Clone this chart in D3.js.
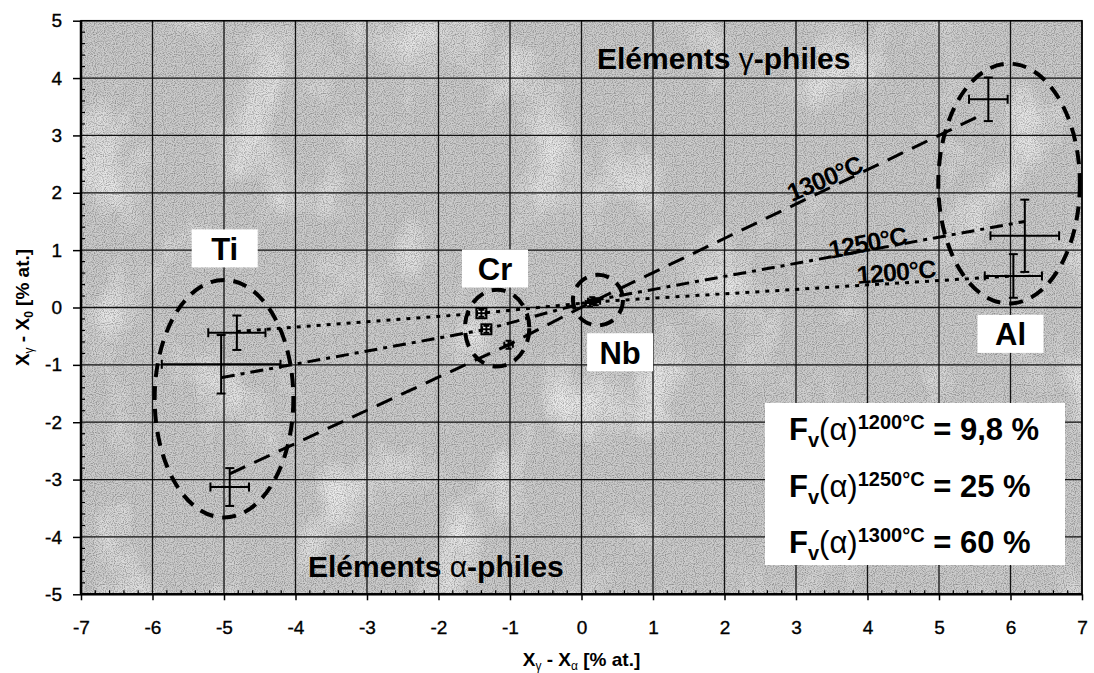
<!DOCTYPE html>
<html><head><meta charset="utf-8">
<script src="https://cdn.jsdelivr.net/npm/d3@7"></script>
<style>
body{margin:0;background:#fff;}
svg{display:block;font-family:"Liberation Sans",Arial,sans-serif;}
</style>
</head><body>
<svg id="c" width="1094" height="673"></svg>
<script>
// ---------- DATA ----------
const xTicks = [-7,-6,-5,-4,-3,-2,-1,0,1,2,3,4,5,6,7];
const xTickLabels = ["-7","-6","-5","-4","-3","-2","-1","0","1","2","3","4","5","6","7"];
const yTicks = [-5,-4,-3,-2,-1,0,1,2,3,4,5];
const yTickLabels = ["-5","-4","-3","-2","-1","0","1","2","3","4","5"];

const elements = ["Ti","Cr","Nb","Al"];
const temps = ["1200°C","1250°C","1300°C"];

// tie lines (Ti, Cr, Nb, Al) for each temperature
const line1200X = [-4.82,-1.40,0.20,6.04];
const line1200Y = [-0.42,-0.10,0.10,0.55];
const line1250X = [-5.03,-1.33,0.15,6.20];
const line1250Y = [-1.22,-0.38,0.12,1.50];
const line1300X = [-4.92,-1.02,0.12,5.60];
const line1300Y = [-2.90,-0.65,0.08,3.36];

// measured points with error bars
const ptX  = [-4.82,-5.04,-4.92,-1.40,-1.33,-1.02, 0.20, 0.15, 0.12, 6.04, 6.20, 5.69];
const ptY  = [-0.44,-0.99,-3.13,-0.10,-0.38,-0.65, 0.10, 0.12, 0.08, 0.55, 1.25, 3.63];
const ptDX = [ 0.40, 0.83, 0.27, 0.06, 0.06, 0.06, 0.06, 0.06, 0.06, 0.40, 0.48, 0.27];
const ptDY = [ 0.30, 0.51, 0.33, 0.06, 0.06, 0.07, 0.06, 0.06, 0.06, 0.38, 0.63, 0.38];
const ptSquare = [false,false,false,true,true,false,false,false,false,false,false,false];

// grouping ellipses (Ti, Cr, Nb, Al): centre and half-axes in data units
const ellCX = [-5.00,-1.18,0.23,5.98];
const ellCY = [-1.59,-0.36,0.13,2.16];
const ellRX = [ 0.97, 0.45,0.35,0.99];
const ellRY = [ 2.07, 0.67,0.44,2.09];

// element labels (centre, data units)
const labX = [-4.99,-1.21,0.54,6.00];
const labY = [ 1.03, 0.68,-0.78,-0.46];

// volume fractions
const fvValues = ["9,8 %","25 %","60 %"];

// ---------- LAYOUT ----------
const svg = d3.select("#c");
const L=81, R=1082, T=20.7, B=594.3;
const x = d3.scaleLinear().domain([-7,7]).range([L,R]);
const y = d3.scaleLinear().domain([-5,5]).range([B,T]);

// background + texture
const defs = svg.append("defs");
const f1 = defs.append("filter").attr("id","mottle").attr("x",0).attr("y",0).attr("width","100%").attr("height","100%");
f1.append("feTurbulence").attr("type","fractalNoise").attr("baseFrequency","0.014 0.009").attr("numOctaves",4).attr("seed",11);
f1.append("feColorMatrix").attr("type","matrix").attr("values","0 0 0 0 1  0 0 0 0 1  0 0 0 0 1  3.2 0 0 0 -1.7");
const f2 = defs.append("filter").attr("id","grain").attr("x",0).attr("y",0).attr("width","100%").attr("height","100%");
f2.append("feTurbulence").attr("type","fractalNoise").attr("baseFrequency","0.9").attr("numOctaves",1).attr("seed",2);
f2.append("feColorMatrix").attr("type","matrix").attr("values","0 0 0 0 0  0 0 0 0 0  0 0 0 0 0  3 0 0 0 -1.3");

svg.append("rect").attr("x",L).attr("y",T).attr("width",R-L).attr("height",B-T).attr("fill","#cbcbcb");
svg.append("rect").attr("x",L).attr("y",T).attr("width",R-L).attr("height",B-T).attr("filter","url(#mottle)").attr("opacity",0.6);
svg.append("rect").attr("x",L).attr("y",T).attr("width",R-L).attr("height",B-T).attr("filter","url(#grain)").attr("opacity",0.3);

// grid
const grid = svg.append("g");
grid.selectAll("line.gx").data(xTicks).join("line")
  .attr("x1",d=>x(d)).attr("x2",d=>x(d)).attr("y1",T).attr("y2",B)
  .attr("stroke","#111").attr("stroke-width",1.3);
grid.selectAll("line.gy").data(yTicks).join("line")
  .attr("y1",d=>y(d)).attr("y2",d=>y(d)).attr("x1",L).attr("x2",R)
  .attr("stroke","#111").attr("stroke-width",1.3);

// ellipses
const ells = svg.append("g");
ellCX.forEach((cx,i)=>{
  ells.append("ellipse")
    .attr("cx",x(cx)).attr("cy",y(ellCY[i]))
    .attr("rx",x(cx+ellRX[i])-x(cx)).attr("ry",y(ellCY[i]-ellRY[i])-y(ellCY[i]))
    .attr("fill","none").attr("stroke","#000").attr("stroke-width",4)
    .attr("stroke-dasharray","14,9");
});

// tie lines
const lineGen = d3.line().x(d=>x(d[0])).y(d=>y(d[1]));
const series = [
  {xs:line1200X, ys:line1200Y, dash:"4,6"},
  {xs:line1250X, ys:line1250Y, dash:"13,6,4,6"},
  {xs:line1300X, ys:line1300Y, dash:"17,10"}
];
series.forEach(s=>{
  svg.append("path").datum(s.xs.map((v,i)=>[v,s.ys[i]]))
    .attr("d",lineGen).attr("fill","none").attr("stroke","#000")
    .attr("stroke-width",3).attr("stroke-dasharray",s.dash);
});

// error bars
const eb = svg.append("g").attr("stroke","#000").attr("stroke-width",2).attr("fill","none");
ptX.forEach((px,i)=>{
  const cx=x(px), cy=y(ptY[i]);
  const x0=x(px-ptDX[i]), x1=x(px+ptDX[i]);
  const y0=y(ptY[i]-ptDY[i]), y1=y(ptY[i]+ptDY[i]);
  const cap = ptDX[i]<0.1 ? 3 : 4.5;
  if(ptSquare[i]){
    eb.append("rect").attr("x",cx-5).attr("y",cy-5).attr("width",10).attr("height",10)
      .attr("fill","#fff").attr("stroke-width",2);
  }
  eb.append("line").attr("x1",x0).attr("x2",x1).attr("y1",cy).attr("y2",cy);
  eb.append("line").attr("x1",cx).attr("x2",cx).attr("y1",y0).attr("y2",y1);
  eb.append("line").attr("x1",x0).attr("x2",x0).attr("y1",cy-cap).attr("y2",cy+cap);
  eb.append("line").attr("x1",x1).attr("x2",x1).attr("y1",cy-cap).attr("y2",cy+cap);
  eb.append("line").attr("x1",cx-cap).attr("x2",cx+cap).attr("y1",y0).attr("y2",y0);
  eb.append("line").attr("x1",cx-cap).attr("x2",cx+cap).attr("y1",y1).attr("y2",y1);
});

// element labels
elements.forEach((e,i)=>{
  const cx=x(labX[i]), cy=y(labY[i]);
  svg.append("rect").attr("x",cx-33).attr("y",cy-19).attr("width",66).attr("height",38).attr("fill","#fff");
  svg.append("text").attr("x",cx).attr("y",cy+11.5).attr("text-anchor","middle")
    .attr("font-size",31).attr("font-weight","bold").text(e);
});

// temperature labels on lines
const tLab = [
  {t:temps[0], px:4.4, py:0.62, rot:-5},
  {t:temps[1], px:4.0, py:1.13, rot:-11},
  {t:temps[2], px:3.40, py:2.25, rot:-23}
];
tLab.forEach(d=>{
  svg.append("text").attr("transform",`translate(${x(d.px)},${y(d.py)}) rotate(${d.rot})`)
    .attr("text-anchor","middle").attr("dy","0.35em")
    .attr("font-size",25).attr("font-weight","bold").attr("letter-spacing",-0.8).text(d.t);
});

// region texts
function philes(xp, base, greek){
  const t = svg.append("text").attr("x",xp).attr("y",base).attr("font-size",30).attr("font-weight","bold");
  t.append("tspan").text("Eléments ");
  t.append("tspan").attr("font-weight","normal").text(greek);
  t.append("tspan").text("-philes");
}
philes(597, 69, "γ");
philes(308, 577, "α");

// legend box
svg.append("rect").attr("x",765).attr("y",403).attr("width",300).attr("height",162).attr("fill","#fff");
const rowBase = [440, 497, 553];
temps.forEach((tp,i)=>{
  const t = svg.append("text").attr("x",789).attr("y",rowBase[i]).attr("font-size",31).attr("font-weight","bold");
  t.append("tspan").text("F");
  t.append("tspan").attr("font-size",20).attr("dy",7).text("v");
  t.append("tspan").attr("font-weight","normal").attr("dy",-7).text("(α)");
  t.append("tspan").attr("font-size",20).attr("dy",-11).text(tp);
  t.append("tspan").attr("dy",11).text(" = " + fvValues[i]);
});

// axes
const gx = svg.append("g").attr("transform",`translate(0,${B})`)
  .call(d3.axisBottom(x).tickValues(xTicks).tickSize(6).tickPadding(20).tickFormat((d,i)=>xTickLabels[i]));
const gy = svg.append("g").attr("transform",`translate(${L},0)`)
  .call(d3.axisLeft(y).tickValues(yTicks).tickSize(8).tickPadding(11).tickFormat((d,i)=>yTickLabels[i]));
[gx,gy].forEach(g=>{
  g.attr("font-size",null).attr("font-family",null);
  g.select(".domain").remove();
  g.selectAll("line").attr("stroke","#000").attr("stroke-width",1.5);
  g.selectAll("text").style("font-size","19px").style("font-family","'Liberation Sans', Arial, sans-serif")
    .attr("fill","#000").attr("stroke","#000").attr("stroke-width",0.35);
});
const minX = d3.range(-7,7.001,0.2).filter(v=>Math.abs(v-Math.round(v))>1e-6);
const minY = d3.range(-5,5.001,0.2).filter(v=>Math.abs(v-Math.round(v))>1e-6);
svg.append("g").selectAll("line").data(minX).join("line")
  .attr("x1",d=>x(d)).attr("x2",d=>x(d)).attr("y1",B).attr("y2",B-4).attr("stroke","#000").attr("stroke-width",1.2);
svg.append("g").selectAll("line").data(minY).join("line")
  .attr("y1",d=>y(d)).attr("y2",d=>y(d)).attr("x1",L).attr("x2",L+4).attr("stroke","#000").attr("stroke-width",1.2);

// frame
svg.append("rect").attr("x",L).attr("y",T).attr("width",R-L).attr("height",B-T)
  .attr("fill","none").attr("stroke","#000").attr("stroke-width",1.5);
svg.append("line").attr("x1",L).attr("x2",L).attr("y1",T).attr("y2",B).attr("stroke","#000").attr("stroke-width",2.5);
svg.append("line").attr("x1",L).attr("x2",R).attr("y1",B).attr("y2",B).attr("stroke","#000").attr("stroke-width",2.5);

// axis titles
const xt = svg.append("text").attr("x",(L+R)/2).attr("y",666).attr("text-anchor","middle")
  .attr("font-size",19).attr("font-weight","bold");
xt.append("tspan").text("X");
xt.append("tspan").attr("font-size",12).attr("font-weight","normal").attr("dy",4).text("γ");
xt.append("tspan").attr("dy",-4).text(" - X");
xt.append("tspan").attr("font-size",12).attr("font-weight","normal").attr("dy",4).text("α");
xt.append("tspan").attr("dy",-4).text(" [% at.]");

const yt = svg.append("text").attr("transform",`translate(29,${(T+B)/2}) rotate(-90)`).attr("text-anchor","middle")
  .attr("font-size",19).attr("font-weight","bold");
yt.append("tspan").text("X");
yt.append("tspan").attr("font-size",12).attr("font-weight","normal").attr("dy",4).text("γ");
yt.append("tspan").attr("dy",-4).text(" - X");
yt.append("tspan").attr("font-size",12).attr("dy",4).text("0");
yt.append("tspan").attr("dy",-4).text(" [% at.]");
</script>
</body></html>
